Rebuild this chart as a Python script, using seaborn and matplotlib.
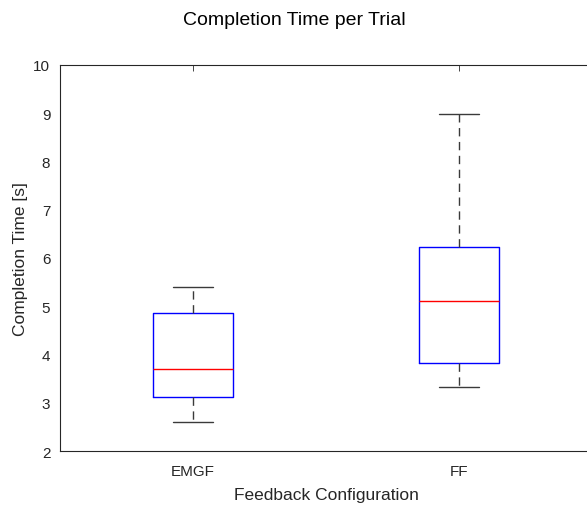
import pandas as pd
import matplotlib
matplotlib.use("Agg")
import matplotlib.pyplot as plt
import seaborn as sns

# five-number summaries (min, q1, median, q3, max)
configs = ["EMGF", "FF"]
emgf_times = [2.61, 3.12, 3.71, 4.86, 5.39]
ff_times = [3.33, 3.82, 5.10, 6.23, 8.97]

df = pd.DataFrame({
    "config": ["EMGF"] * len(emgf_times) + ["FF"] * len(ff_times),
    "time": emgf_times + ff_times,
})

sns.set_style("white")
plt.rcParams["font.family"] = ["Liberation Sans", "DejaVu Sans"]

fig = plt.figure(figsize=(5.87, 5.06), dpi=100)
ax = fig.add_axes([0.1022, 0.1061, 0.9072, 0.7641])

sns.boxplot(
    data=df, x="config", y="time", order=configs,
    width=0.3, fill=False, color="blue", linewidth=1,
    whis=(0, 100), showfliers=False,
    boxprops=dict(color="blue", linewidth=1),
    medianprops=dict(color="red", linewidth=1),
    whiskerprops=dict(color="#3a3a3a", linestyle=(0, (6, 4)), linewidth=1),
    capprops=dict(color="#3a3a3a", linewidth=1),
    capwidths=0.15,
    ax=ax,
)

ax.set_xlim(-0.5, 1.5)
ax.set_ylim(2, 10)
ax.set_yticks(range(2, 11))

gray = "#262626"
for s in ax.spines.values():
    s.set_color(gray)
    s.set_linewidth(0.8)
ax.tick_params(direction="in", length=4, width=0.6, colors=gray,
               labelsize=11, top=True, right=True)
ax.tick_params(axis="x", pad=9)
ax.tick_params(axis="y", pad=7)

ax.set_xlabel("Feedback Configuration", fontsize=12.5, color=gray, labelpad=6.5)
ax.set_ylabel("Completion Time [s]", fontsize=12.5, color=gray, labelpad=4)
# title sits over the middle of the visible figure, not the clipped axes
ax.set_title("Completion Time per Trial", fontsize=14, color="black", pad=29, x=0.44)

fig.savefig("out.png", dpi=100)
